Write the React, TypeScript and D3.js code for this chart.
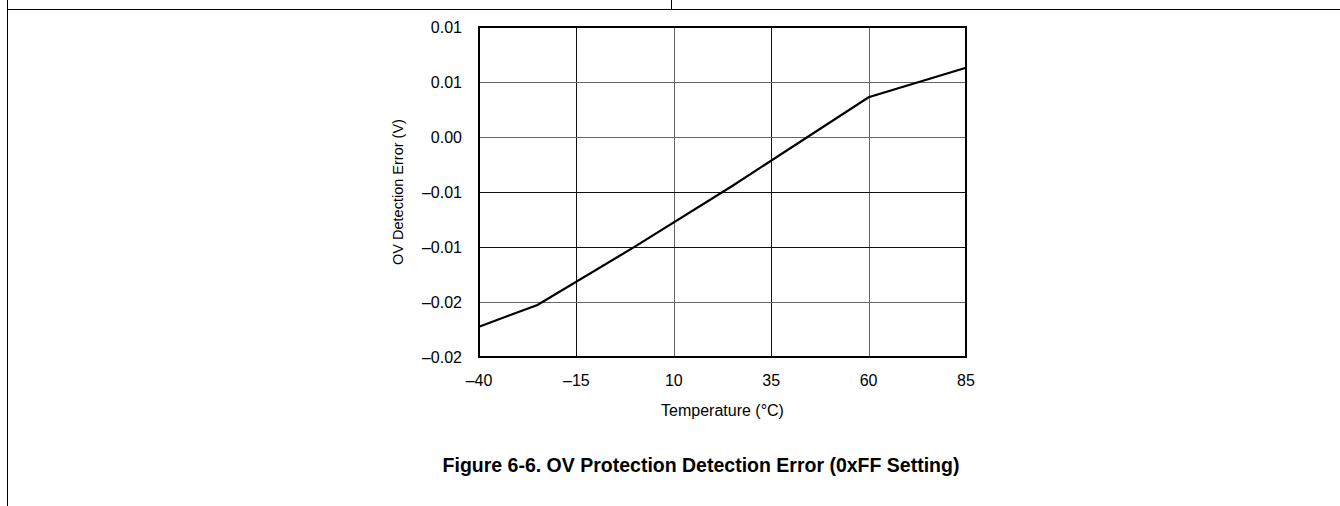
import React, { useEffect, useRef } from 'react';
import * as d3 from 'd3';

// temperature (°C) vs OV detection error (V)
const temps = [-40, -25, 0, 25, 60, 85];
const errors = [-0.01725, -0.01527, -0.00997, -0.00445, 0.00361, 0.0063];

const xTicks = [-40, -15, 10, 35, 60, 85];
const xTickLabels = ['\u201340', '\u201315', '10', '35', '60', '85'];
const yTicks = [-0.02, -0.015, -0.01, -0.005, 0, 0.005, 0.01];
// the source rounds every tick to two decimals
const yTickLabels = ['\u20130.02', '\u20130.02', '\u20130.01', '\u20130.01', '0.00', '0.01', '0.01'];

const W = 1340;
const H = 506;
const FONT = '"Liberation Sans", Arial, sans-serif';

const App = () => {
  const svgRef = useRef<SVGSVGElement>(null);

  useEffect(() => {
    const svg = d3.select(svgRef.current);
    svg.selectAll('*').remove();

    // page frame
    svg.append('line').attr('x1', 7.5).attr('x2', 7.5).attr('y1', 0).attr('y2', H)
      .attr('stroke', '#000').attr('stroke-width', 1);
    svg.append('line').attr('x1', 7.5).attr('x2', W).attr('y1', 9.5).attr('y2', 9.5)
      .attr('stroke', '#000').attr('stroke-width', 1);
    svg.append('line').attr('x1', 671.5).attr('x2', 671.5).attr('y1', 0).attr('y2', 9.5)
      .attr('stroke', '#000').attr('stroke-width', 1);

    const margin = { top: 27, right: 374, bottom: 149, left: 479 };
    const x = d3.scaleLinear()
      .domain([-40, 85])
      .range([margin.left, W - margin.right]);
    const y = d3.scaleLinear()
      .domain([-0.02, 0.01])
      .range([H - margin.bottom, margin.top]);

    // grid
    const grid = svg.append('g');
    grid.selectAll('line.v')
      .data(xTicks.slice(1, -1))
      .join('line')
      .attr('x1', d => Math.round(x(d)) + 0.5)
      .attr('x2', d => Math.round(x(d)) + 0.5)
      .attr('y1', y(0.01))
      .attr('y2', y(-0.02))
      .attr('stroke', (d, i) => (i % 2 === 0 ? '#111' : '#666'))
      .attr('stroke-width', 1);
    grid.selectAll('line.h')
      .data(yTicks.slice(1, -1))
      .join('line')
      .attr('x1', x(-40))
      .attr('x2', x(85))
      .attr('y1', d => Math.round(y(d)) + 0.5)
      .attr('y2', d => Math.round(y(d)) + 0.5)
      .attr('stroke', d => (d === -0.01 || d === -0.005 ? '#111' : '#666'))
      .attr('stroke-width', 1);

    // plot border
    svg.append('rect')
      .attr('x', x(-40))
      .attr('y', y(0.01))
      .attr('width', x(85) - x(-40))
      .attr('height', y(-0.02) - y(0.01))
      .attr('fill', 'none')
      .attr('stroke', '#000')
      .attr('stroke-width', 2);

    // data line
    const line = d3.line<number>()
      .x((d, i) => x(temps[i]))
      .y(d => y(d));
    svg.append('path')
      .datum(errors)
      .attr('fill', 'none')
      .attr('stroke', '#000')
      .attr('stroke-width', 2.2)
      .attr('d', line);

    // tick labels
    svg.append('g')
      .selectAll('text')
      .data(yTicks)
      .join('text')
      .attr('x', 462)
      .attr('y', d => y(d))
      .attr('dy', '0.35em')
      .attr('text-anchor', 'end')
      .attr('font-family', FONT)
      .attr('font-size', 16)
      .text((d, i) => yTickLabels[i]);

    svg.append('g')
      .selectAll('text')
      .data(xTicks)
      .join('text')
      .attr('x', d => x(d))
      .attr('y', 386)
      .attr('text-anchor', 'middle')
      .attr('font-family', FONT)
      .attr('font-size', 16)
      .text((d, i) => xTickLabels[i]);

    // axis titles
    svg.append('text')
      .attr('x', (x(-40) + x(85)) / 2)
      .attr('y', 416)
      .attr('text-anchor', 'middle')
      .attr('font-family', FONT)
      .attr('font-size', 16)
      .text('Temperature (°C)');

    svg.append('text')
      .attr('transform', `translate(403,${(y(0.01) + y(-0.02)) / 2}) rotate(-90)`)
      .attr('text-anchor', 'middle')
      .attr('font-family', FONT)
      .attr('font-size', 14.5)
      .text('OV Detection Error (V)');

    // caption
    svg.append('text')
      .attr('x', 701)
      .attr('y', 472)
      .attr('text-anchor', 'middle')
      .attr('font-family', FONT)
      .attr('font-size', 19.5)
      .attr('font-weight', 'bold')
      .text('Figure 6-6. OV Protection Detection Error (0xFF Setting)');
  }, []);

  return (
    <svg
      ref={svgRef}
      width={W}
      height={H}
      style={{ position: 'absolute', left: 0, top: 0, background: '#fff' }}
    />
  );
};

export default App;
